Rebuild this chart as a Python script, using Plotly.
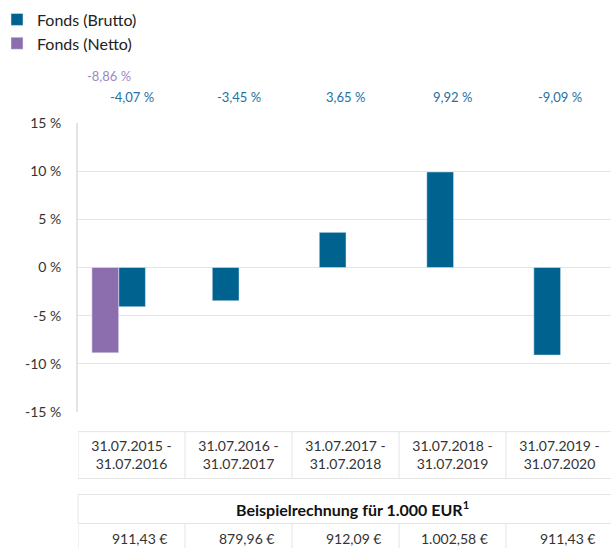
import plotly.graph_objects as go

# ---- data ----
periods = ["31.07.2015 -<br>31.07.2016", "31.07.2016 -<br>31.07.2017",
           "31.07.2017 -<br>31.07.2018", "31.07.2018 -<br>31.07.2019",
           "31.07.2019 -<br>31.07.2020"]
brutto = [-4.07, -3.45, 3.65, 9.92, -9.09]
netto = [-8.86, None, None, None, None]
example_eur = [911.43, 879.96, 912.09, 1002.58, 911.43]
y_ticks = [15, 10, 5, 0, -5, -10, -15]
table_title = "Beispielrechnung für 1.000 EUR<sup>1</sup>"

BLUE = "#00628f"
PURPLE = "#8c6eae"
BLUE_TXT = "#2470a3"
PURPLE_TXT = "#a088c4"
GRID = "#e4e4e4"
TXT = "#333333"
FONT = "Lato"

W, H = 611, 548
L, T, B_PX = 78, 122.7, 412.3
PH = B_PX - T
PW = W - L
COL = 107.0  # pixel width of one category


def py(ypx):
    return (B_PX - ypx) / PH


def px(xpx):
    return (xpx - L) / PW


def de_num(v, dec=2):
    s = f"{v:,.{dec}f}"
    return s.replace(",", "X").replace(".", ",").replace("X", ".")


fig = go.Figure()
fig.add_trace(go.Bar(
    x=periods, y=brutto, name="Fonds (Brutto)", marker_color=BLUE,
    width=0.25, offset=[-0.12, -0.245, -0.245, -0.24, -0.24],
    hoverinfo="skip"))
fig.add_trace(go.Bar(
    x=periods, y=netto, name="Fonds (Netto)", marker_color=PURPLE,
    width=0.25, offset=-0.37, hoverinfo="skip"))

ann = []
for i, v in enumerate(brutto):
    ann.append(dict(x=periods[i], y=py(97), xref="x", yref="paper", yanchor="middle",
                    text=de_num(v) + " %", showarrow=False,
                    font=dict(color=BLUE_TXT, size=13, family=FONT)))
for i, v in enumerate(netto):
    if v is not None:
        ann.append(dict(x=periods[i], y=py(76), xref="x", yref="paper", yanchor="middle",
                        text=de_num(v) + " %", showarrow=False, xshift=-23,
                        font=dict(color=PURPLE_TXT, size=13, family=FONT)))
# table header
ann.append(dict(x=px(352), y=py(509), xref="paper", yref="paper", yanchor="middle",
                text="<b>" + table_title + "</b>", showarrow=False,
                font=dict(color="#111111", size=16, family=FONT)))
for i, v in enumerate(example_eur):
    ann.append(dict(x=px(L + COL * (i + 1) - 16), y=py(539), xref="paper", yref="paper",
                    yanchor="middle", text=de_num(v) + " €", showarrow=False,
                    xanchor="right", font=dict(color=TXT, size=14, family=FONT)))

shapes = []
line = dict(color=GRID, width=1)
# horizontal table lines
for ypx in [432, 479, 495, 524]:
    shapes.append(dict(type="line", xref="paper", yref="paper", x0=0, x1=1.05,
                       y0=py(ypx), y1=py(ypx), line=line, layer="below"))
# vertical table lines
for k in range(6):
    shapes.append(dict(type="line", xref="x", yref="paper", x0=k - 0.5, x1=k - 0.5,
                       y0=py(432), y1=py(479), line=line, layer="below"))
    shapes.append(dict(type="line", xref="x", yref="paper", x0=k - 0.5, x1=k - 0.5,
                       y0=py(524), y1=py(560), line=line, layer="below"))
shapes.append(dict(type="line", xref="paper", yref="paper", x0=0, x1=0,
                   y0=py(495), y1=py(524), line=line, layer="below"))

fig.update_layout(
    width=W, height=H,
    margin=dict(l=L, r=0, t=T, b=H - B_PX, pad=0, autoexpand=False),
    plot_bgcolor="white", paper_bgcolor="white",
    font=dict(family=FONT, color=TXT, size=14),
    barmode="overlay",
    showlegend=True,
    legend=dict(x=px(-3), xanchor="left", y=py(2), yanchor="top",
                font=dict(size=16, color="#222222", family=FONT),
                traceorder="normal", itemclick=False, itemdoubleclick=False,
                bgcolor="rgba(0,0,0,0)", tracegroupgap=0),
    annotations=ann, shapes=shapes,
)
fig.update_xaxes(type="category", range=[-0.5, -0.5 + PW / COL], showgrid=False,
                 showline=False, zeroline=False, ticks="", automargin=False,
                 ticklabelstandoff=24, tickfont=dict(size=14, color=TXT))
fig.update_yaxes(range=[-15, 15], tickvals=y_ticks,
                 ticktext=[f"{t} %" for t in y_ticks], automargin=False,
                 showgrid=True, gridcolor=GRID, gridwidth=1,
                 zeroline=False, showline=True, linecolor=GRID, linewidth=2,
                 ticks="", ticklabelstandoff=12,
                 tickfont=dict(size=14, color=TXT))

fig.write_html("out.html", config={"displayModeBar": False},
               post_script="document.body.style.margin='0';document.body.style.padding='0';")
